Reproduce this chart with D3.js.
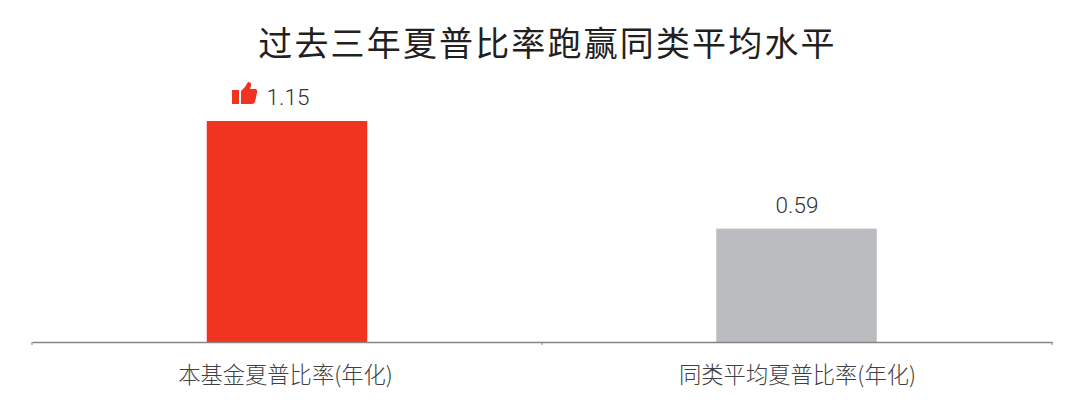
<!DOCTYPE html>
<html><head><meta charset="utf-8">
<script src="https://cdn.jsdelivr.net/npm/d3@7"></script>
<style>html,body{margin:0;background:#fff}svg{display:block}</style></head>
<body><svg id="c" width="1080" height="415"></svg>
<script>
const titleText = "过去三年夏普比率跑赢同类平均水平";
const categories = ["本基金夏普比率(年化)", "同类平均夏普比率(年化)"];
const values = [1.15, 0.59];
const valueLabels = ["1.15", "0.59"];
const colors = ["#f03420", "#bbbcbf"];
const svg = d3.select("#c");
const font = "'Noto Sans CJK SC'";
const x = d3.scaleBand().domain(categories).range([32, 1052]).paddingInner(0).paddingOuter(0);
const y = d3.scaleLinear().domain([0, 1.15]).range([342, 121]);
const bw = 160.5;
svg.append("text").attr("x", 547.5).attr("y", 56).attr("text-anchor", "middle")
  .attr("font-family", font).attr("font-size", 34).attr("letter-spacing", 2.15).attr("fill", "#231f20").text(titleText);
svg.selectAll("rect.bar").data(categories).join("rect").attr("class", "bar")
  .attr("x", (d,i) => x(d) + x.bandwidth()/2 - bw/2 - (i ? 0.5 : 0)).attr("width", bw)
  .attr("y", (d,i) => y(values[i])).attr("height", (d,i) => y(0) - y(values[i]))
  .attr("fill", (d,i) => colors[i]);
const axis = svg.append("g").attr("transform", "translate(0,342)")
  .call(d3.axisBottom(x).tickValues([]).tickSize(0));
axis.select(".domain").attr("stroke", "#858585").attr("stroke-width", 1.5);
[32, 542, 1052].forEach(px => axis.append("line").attr("x1", px).attr("x2", px).attr("y1", 0).attr("y2", 3).attr("stroke", "#858585"));
svg.selectAll("text.cat").data(categories).join("text").attr("class", "cat")
  .attr("x", d => x(d) + x.bandwidth()/2 + (d === categories[0] ? -1.5 : 0.5)).attr("y", 383).attr("text-anchor", "middle")
  .attr("font-family", font).attr("font-weight", 300).attr("font-size", 22.3).attr("fill", "#414042").text(d => d);
svg.selectAll("text.val").data(values).join("text").attr("class", "val")
  .attr("x", (d,i) => i === 0 ? 288 : x(categories[i]) + x.bandwidth()/2)
  .attr("y", d => y(d) - 16).attr("text-anchor", "middle")
  .attr("font-family", "Roboto").attr("font-weight", 300).attr("font-size", 22.5).attr("fill", "#333333").text((d,i) => valueLabels[i]);
const icon = svg.append("g").attr("transform", `translate(232,${y(1.15)-39})`).attr("fill", "#f03420");
icon.append("rect").attr("width", 7).attr("height", 14).attr("y", 8);
icon.append("path").attr("d", "M9 9 L13 5 L16 0 Q20 0 19 4 L18 7 L24 7 Q26 9 25 11 L23 20 Q22 22 20 22 L9 22 Z");
</script></body></html>
